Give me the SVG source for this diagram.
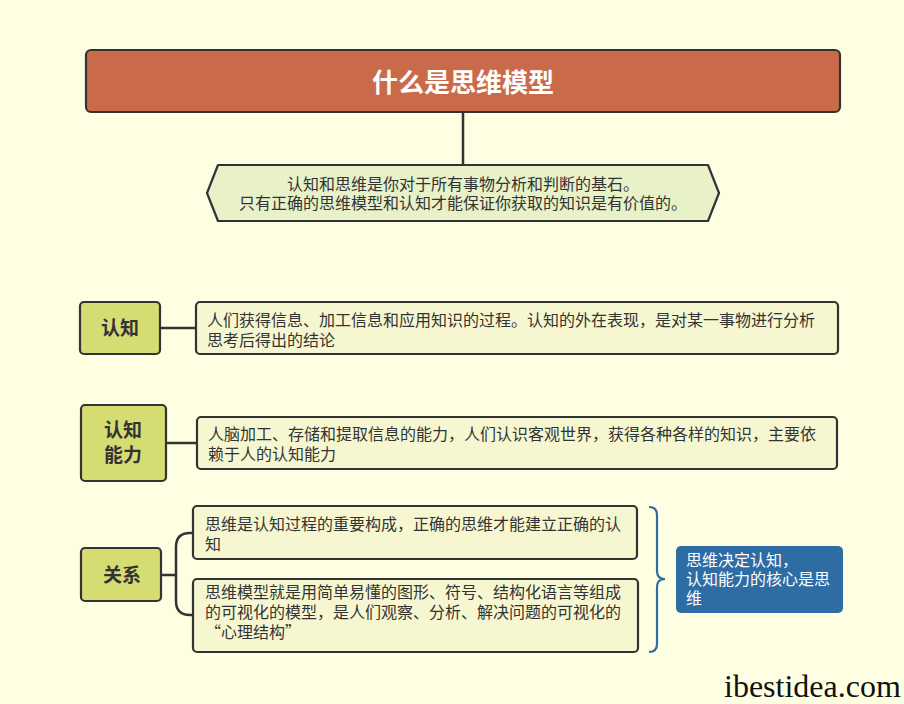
<svg xmlns="http://www.w3.org/2000/svg" width="904" height="704" viewBox="0 0 904 704">
<style>
.bg{fill:#FEFEE2}
.box{stroke:#333333;stroke-width:2.2;stroke-linejoin:round}
.label{fill:#D5DC72}
.desc{fill:#F6F7D0}
.t{font-family:"Noto Sans CJK SC","Noto Sans",sans-serif;font-size:16px;fill:#333333}
.lb{font-family:"Noto Sans CJK SC","Noto Sans",sans-serif;font-size:19px;font-weight:700;fill:#333333;text-anchor:middle}
.conn{fill:none;stroke:#333333;stroke-width:2.5}
</style>
<rect class="bg" x="0" y="0" width="904" height="704"/>
<g id="connectors">
<path class="conn" d="M463,112 V165"/>
<path class="conn" d="M160,328 H196"/>
<path class="conn" d="M166,443 H197"/>
<path class="conn" d="M161,575 H176"/>
<path class="conn" d="M193,533 H190 Q176,533 176,547 V601 Q176,615 190,615 H193"/>
<path fill="none" stroke="#2E6DA4" stroke-width="2.2" d="M649,507 Q657,507 657,515 V571 Q657,579 665,579 Q657,579 657,587 V644 Q657,652 649,652"/>
</g>
<g id="title">
<rect class="box" x="86" y="50" width="754" height="62" rx="5" fill="#C96A4A"/>
<text x="463" y="92" text-anchor="middle" font-family="'Noto Sans CJK SC','Noto Sans',sans-serif" font-size="26" font-weight="700" fill="#FFFFFF">什么是思维模型</text>
</g>
<g id="summary">
<path class="box" d="M218,165 L708,165 L719,193 L708,221 L218,221 L207,193 Z" fill="#E8F1C8"/>
<text class="t" x="463" y="190" text-anchor="middle">认知和思维是你对于所有事物分析和判断的基石。</text>
<text class="t" x="463" y="209" text-anchor="middle">只有正确的思维模型和认知才能保证你获取的知识是有价值的。</text>
</g>
<g id="renzhi">
<rect class="box label" x="80" y="302" width="80" height="52" rx="4"/>
<text class="lb" x="120" y="335">认知</text>
</g>
<g id="renzhi-desc">
<rect class="box desc" x="196" y="302" width="642" height="52" rx="4"/>
<text class="t" x="207" y="326">人们获得信息、加工信息和应用知识的过程。认知的外在表现，是对某一事物进行分析</text>
<text class="t" x="207" y="346">思考后得出的结论</text>
</g>
<g id="renzhi-nengli">
<rect class="box label" x="81" y="405" width="85" height="76" rx="4"/>
<text class="lb" x="123" y="437">认知</text>
<text class="lb" x="123" y="462">能力</text>
</g>
<g id="renzhi-nengli-desc">
<rect class="box desc" x="197" y="417" width="640" height="52" rx="4"/>
<text class="t" x="208" y="440">人脑加工、存储和提取信息的能力，人们认识客观世界，获得各种各样的知识，主要依</text>
<text class="t" x="208" y="460">赖于人的认知能力</text>
</g>
<g id="guanxi">
<rect class="box label" x="81" y="548" width="80" height="53" rx="4"/>
<text class="lb" x="122" y="582">关系</text>
</g>
<g id="guanxi-1">
<rect class="box desc" x="193" y="506" width="444" height="53" rx="4"/>
<text class="t" x="205" y="530">思维是认知过程的重要构成，正确的思维才能建立正确的认</text>
<text class="t" x="205" y="550">知</text>
</g>
<g id="guanxi-2">
<rect class="box desc" x="193" y="579" width="445" height="73" rx="4"/>
<text class="t" x="205" y="598">思维模型就是用简单易懂的图形、符号、结构化语言等组成</text>
<text class="t" x="205" y="618">的可视化的模型，是人们观察、分析、解决问题的可视化的</text>
<text class="t" x="205" y="638">“心理结构”</text>
</g>
<g id="summary-note">
<rect x="676" y="546" width="167" height="67" rx="5" fill="#2E6DA4"/>
<text class="t" x="686" y="566" style="fill:#FFFFFF">思维决定认知，</text>
<text class="t" x="686" y="585" style="fill:#FFFFFF">认知能力的核心是思</text>
<text class="t" x="686" y="604" style="fill:#FFFFFF">维</text>
</g>
<text x="724" y="697" font-family="'Liberation Serif',serif" font-size="32" fill="#111111">ibestidea.com</text>
</svg>
